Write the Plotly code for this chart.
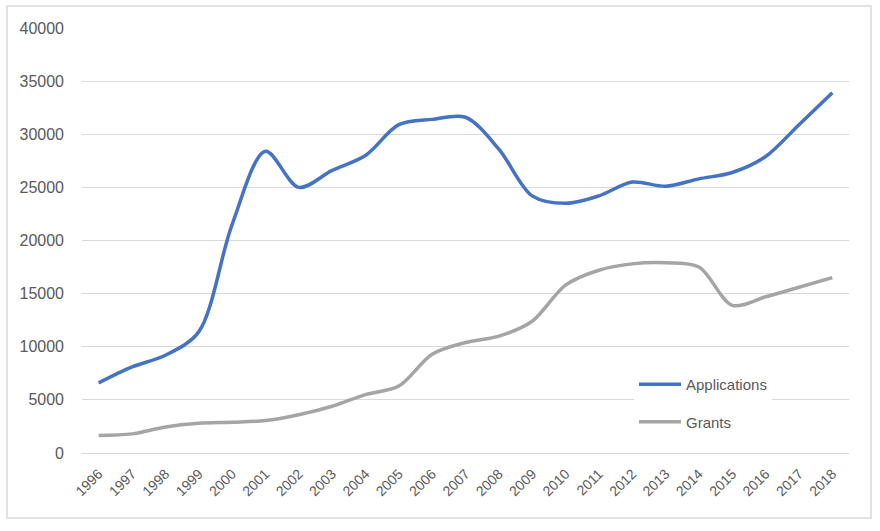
import plotly.graph_objects as go

years = [str(y) for y in range(1996, 2019)]
applications = [6600, 8100, 9200, 11400, 21500, 28400, 25000, 26600, 28000, 30900,
                31400, 31600, 28600, 24200, 23500, 24200, 25500, 25100, 25800, 26400,
                27900, 30900, 33900]
grants = [1650, 1800, 2450, 2800, 2900, 3050, 3600, 4400, 5500, 6300,
          9300, 10400, 11000, 12400, 15800, 17200, 17800, 17900, 17500, 13900,
          14700, 15600, 16500]
y_ticks = [0, 5000, 10000, 15000, 20000, 25000, 30000, 35000, 40000]

FONT = "Liberation Sans"
TXT = "#595959"

fig = go.Figure()
fig.add_trace(go.Scatter(x=years, y=applications, mode="lines", name="Applications",
                         line=dict(color="#4472C4", width=3.5, shape="spline", smoothing=0.9),
                         legendgroup="a"))
fig.add_trace(go.Scatter(x=years, y=grants, mode="lines", name="Grants",
                         line=dict(color="#A5A5A5", width=3.5, shape="spline", smoothing=0.9),
                         legendgroup="g"))

L, R, T, B = 82, 31, 28, 78
W, H = 880, 531
pw, ph = W - L - R, H - T - B

def px_to_paper_x(px):
    return (px - L) / pw

def px_to_paper_y(py):
    return (H - B - py) / ph

fig.update_layout(
    width=W, height=H,
    margin=dict(l=L, r=R, t=T, b=B, pad=0),
    paper_bgcolor="white", plot_bgcolor="white",
    font=dict(family=FONT, size=15, color=TXT),
    showlegend=True,
    legend=dict(x=px_to_paper_x(634), y=px_to_paper_y(368), xanchor="left", yanchor="top",
                bgcolor="white", borderwidth=0, font=dict(size=15, color=TXT),
                traceorder="grouped", tracegroupgap=15, itemwidth=42),
    xaxis=dict(type="category", range=[-0.5, len(years) - 0.5],
               showgrid=False, showline=False, ticks="",
               tickangle=-45, ticklabelstandoff=9, tickfont=dict(size=14, color=TXT)),
    yaxis=dict(range=[0, 40000], tickvals=y_ticks, ticktext=[str(v) for v in y_ticks],
               showgrid=True, gridcolor="#D9D9D9", gridwidth=1,
               zeroline=True, zerolinecolor="#D9D9D9", zerolinewidth=1,
               showline=False, ticks="", ticklabelstandoff=17,
               tickfont=dict(size=16, color=TXT)),
    shapes=[dict(type="rect", xref="paper", yref="paper",
                 x0=px_to_paper_x(7), x1=px_to_paper_x(871),
                 y0=px_to_paper_y(518), y1=px_to_paper_y(6),
                 line=dict(color="#D9D9D9", width=1.5), fillcolor="rgba(0,0,0,0)",
                 layer="below")],
)

fig.write_html("out.html", config={"displayModeBar": False},
               post_script="document.body.style.margin='0';")
